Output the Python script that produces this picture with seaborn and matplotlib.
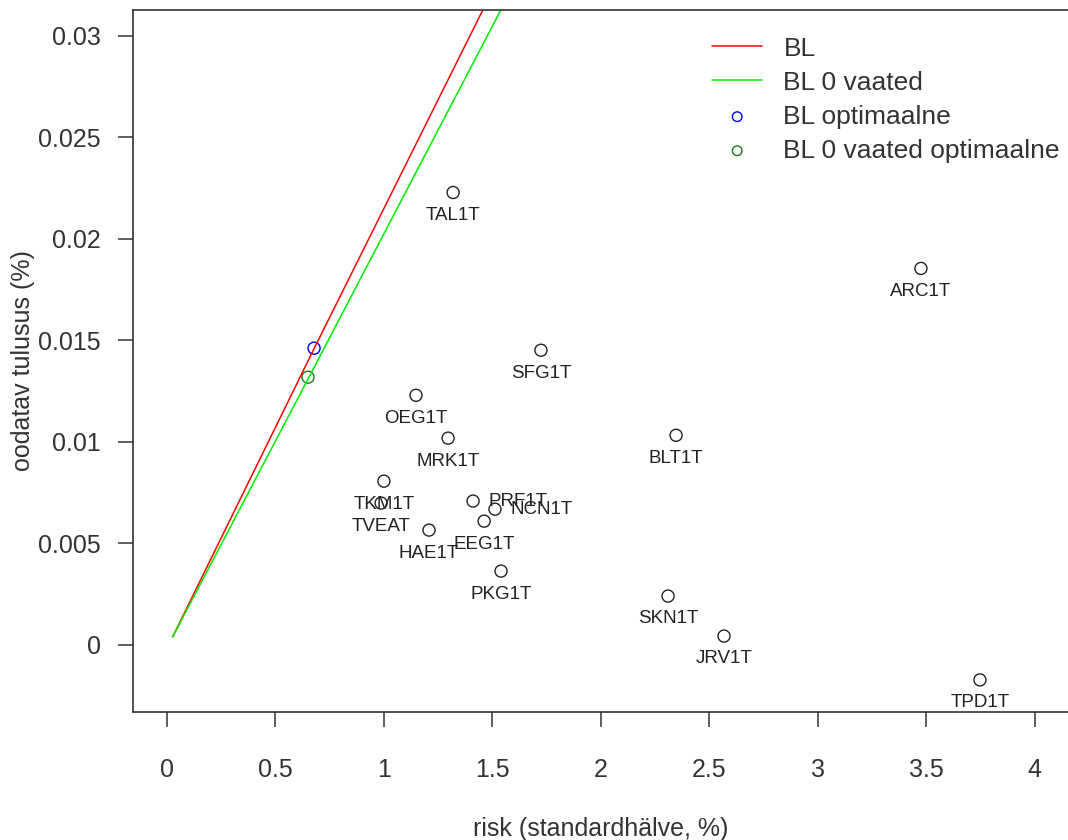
import pandas as pd
import numpy as np
import matplotlib
matplotlib.use('Agg')
import matplotlib.pyplot as plt
import seaborn as sns

# Aktsiad: risk (standardhälve, %) ja oodatav tulusus (%)
tickers = ['TAL1T', 'ARC1T', 'SFG1T', 'OEG1T', 'MRK1T', 'BLT1T', 'TKM1T', 'TVEAT',
           'PRF1T', 'NCN1T', 'EEG1T', 'HAE1T', 'PKG1T', 'SKN1T', 'JRV1T', 'TPD1T']
risk = [1.319, 3.476, 1.724, 1.148, 1.296, 2.347, 1.000, 0.987,
        1.411, 1.512, 1.462, 1.208, 1.540, 2.310, 2.568, 3.748]
tulusus = [0.02229, 0.01855, 0.01452, 0.01230, 0.01019, 0.01033, 0.00807, 0.00699,
           0.00709, 0.00669, 0.00610, 0.00566, 0.00364, 0.00241, 0.00044, -0.00172]
# sildi asukoht: 'all' = punkti all, 'paremal' = punktist paremal
sildi_koht = ['all', 'all', 'all', 'all', 'all', 'all', 'all', 'all',
              'paremal', 'paremal', 'all', 'all', 'all', 'all', 'all', 'all']

# Efektiivsed piirid
bl_x = [0.026, 0.678, 1.457]
bl_y = [0.0004, 0.0146, 0.0313]
bl0_x = [0.026, 0.650, 1.540]
bl0_y = [0.0004, 0.0131, 0.0313]

# Optimaalsed portfellid
opt_bl = (0.678, 0.01462)
opt_bl0 = (0.650, 0.01319)

sns.set_style("white")
plt.rcParams['font.family'] = ['Liberation Sans', 'DejaVu Sans']

fig = plt.figure(figsize=(10.68, 8.4), dpi=100)
ax = fig.add_axes([0.1245, 0.1524, 0.8755, 0.8357])

df = pd.DataFrame({'ticker': tickers, 'risk': risk, 'tulusus': tulusus,
                   'koht': sildi_koht})

sns.lineplot(x=bl_x, y=bl_y, color='#ff0000', lw=1.1, ax=ax, label='BL')
sns.lineplot(x=bl0_x, y=bl0_y, color='#00ee00', lw=1.1, ax=ax, label='BL 0 vaated')
sns.scatterplot(x=[opt_bl[0]], y=[opt_bl[1]], marker='o', s=75, facecolor='none',
                edgecolor='blue', linewidth=1.0, ax=ax, label='BL optimaalne')
sns.scatterplot(x=[opt_bl0[0]], y=[opt_bl0[1]], marker='o', s=75, facecolor='none',
                edgecolor='#1a7a1a', linewidth=1.0, ax=ax, label='BL 0 vaated optimaalne')
sns.scatterplot(data=df, x='risk', y='tulusus', marker='o', s=75, facecolor='none',
                edgecolor='#222222', linewidth=1.0, ax=ax)

# Sildid punktide juurde
for _, r in df.iterrows():
    if r['koht'] == 'paremal':
        ax.annotate(r['ticker'], (r['risk'], r['tulusus']), xytext=(11, 0),
                    textcoords='offset points', ha='left', va='center',
                    fontsize=13.5, color='#222222')
    else:
        ax.annotate(r['ticker'], (r['risk'], r['tulusus']), xytext=(0, -16.5),
                    textcoords='offset points', ha='center', va='center',
                    fontsize=13.5, color='#222222')

ax.set_xlim(-0.157, 4.154)
ax.set_ylim(-0.0033, 0.03128)
ax.set_xticks([0, 0.5, 1, 1.5, 2, 2.5, 3, 3.5, 4])
ax.set_xticklabels(['0', '0.5', '1', '1.5', '2', '2.5', '3', '3.5', '4'])
ax.set_yticks([0, 0.005, 0.01, 0.015, 0.02, 0.025, 0.03])
ax.set_yticklabels(['0', '0.005', '0.01', '0.015', '0.02', '0.025', '0.03'])
ax.tick_params(axis='both', which='both', direction='out', length=11, width=1.1,
               color='#333333', labelsize=18, labelcolor='#333333',
               bottom=True, left=True, top=False, right=False)
ax.tick_params(axis='x', pad=22)
ax.tick_params(axis='y', pad=12)

for side in ['left', 'bottom', 'top']:
    ax.spines[side].set_color('#333333')
    ax.spines[side].set_linewidth(1.2)
ax.spines['right'].set_visible(False)

ax.set_xlabel('risk (standardhälve, %)', fontsize=18, color='#333333', labelpad=25)
ax.set_ylabel('oodatav tulusus (%)', fontsize=18, color='#333333', labelpad=2)

leg = ax.legend(loc='upper left', bbox_to_anchor=(0.594, 0.996), frameon=False,
                fontsize=19, handlelength=1.9, handletextpad=0.8, labelspacing=0.38,
                labelcolor='#333333', markerscale=0.8)

plt.savefig('out.png', dpi=100)
plt.close()
